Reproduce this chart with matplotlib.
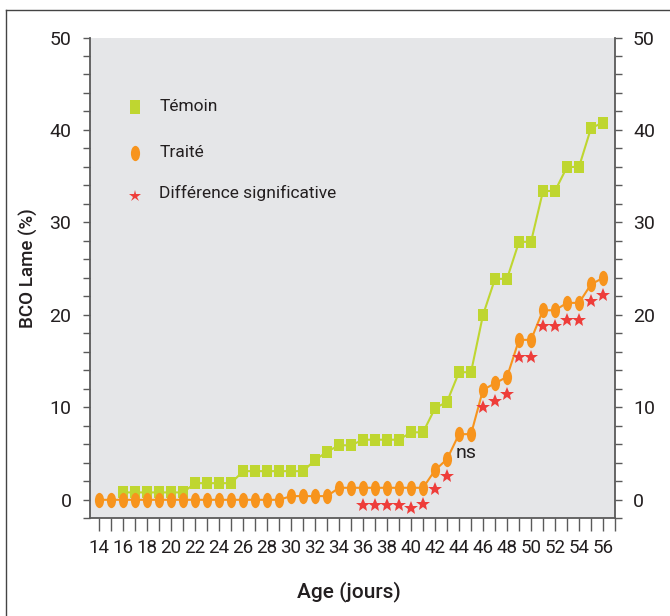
import numpy as np
import matplotlib
matplotlib.use("Agg")
from matplotlib import pyplot as plt
from matplotlib.path import Path
from matplotlib.lines import Line2D

# data
temoin_days = list(range(16, 57))
temoin = [0.8] * 6 + [1.8] * 4 + [3.1] * 6 + [4.3, 5.2, 5.9, 5.9] + [6.5] * 4 + \
         [7.3, 7.3, 9.9, 10.6, 13.8, 13.8, 20.0, 23.9, 23.9, 27.9, 27.9,
          33.4, 33.4, 36.0, 36.0, 40.2, 40.8]

traite_days = list(range(14, 57))
traite = [0.0] * 16 + [0.4] * 4 + [1.3] * 8 + \
         [3.2, 4.4, 7.1, 7.1, 11.9, 12.6, 13.3, 17.3, 17.3, 20.5, 20.5,
          21.3, 21.3, 23.3, 24.0]

star_days = [36, 37, 38, 39, 40, 41, 42, 43, 46, 47, 48, 49, 50, 51, 52, 53, 54, 55, 56]
star_vals = [-0.6, -0.6, -0.6, -0.6, -0.9, -0.5, 1.2, 2.6, 10.0, 10.7, 11.4,
             15.4, 15.4, 18.8, 18.8, 19.5, 19.5, 21.5, 22.2]

x_labels = list(range(14, 57, 2))
y_labels = [0, 10, 20, 30, 40, 50]

GREEN = "#bfd630"
ORANGE = "#f7941d"
RED = "#ee3d3a"
BG = "#e5e6e8"
DARK = "#231f20"
AXC = "#5a5a5a"

plt.rcParams['font.family'] = ['Roboto', 'DejaVu Sans']

# marker shapes: tall rectangle and tall ellipse
rect = Path([(-0.37, -0.5), (0.37, -0.5), (0.37, 0.5), (-0.37, 0.5), (-0.37, -0.5)],
            [Path.MOVETO, Path.LINETO, Path.LINETO, Path.LINETO, Path.CLOSEPOLY])
circ = Path.unit_circle()
ellipse = Path(circ.vertices * np.array([0.6, 1.0]), circ.codes)

fig = plt.figure(figsize=(6.7, 6.16), dpi=100)
ax = fig.add_axes([0.1336, 0.1586, 0.7843, 0.7805])
ax.set_facecolor(BG)

ax.plot(temoin_days, temoin, color=GREEN, lw=1.5, marker=rect, markersize=9,
        markerfacecolor=GREEN, markeredgewidth=0, zorder=3)
ax.plot(traite_days, traite, color=ORANGE, lw=1.5, marker=ellipse, markersize=11,
        markerfacecolor=ORANGE, markeredgewidth=0, zorder=4)
ax.plot(star_days, star_vals, ls="none", marker="*", markersize=10, color=RED,
        markeredgewidth=0, zorder=5)

ax.text(44.6, 5.05, "ns", fontsize=14, color=DARK, ha="center", va="center")

ax.set_xlim(13.2, 57)
ax.set_ylim(-2, 50)

ax.set_xticks(x_labels)
ax.set_xticklabels([str(v) for v in x_labels])
ax.set_xticks(range(14, 58), minor=True)
ax.set_yticks(y_labels)
ax.set_yticks(range(-2, 51, 2), minor=True)

ax.spines["top"].set_visible(False)
for s in ["left", "right", "bottom"]:
    ax.spines[s].set_color(AXC)
    ax.spines[s].set_linewidth(1.3)

ax.tick_params(axis="x", which="both", direction="out", length=9, width=1,
               color=AXC, labelsize=13.5, labelcolor=DARK, pad=6)
ax.tick_params(axis="y", which="both", direction="out", length=5, width=1,
               color=AXC, labelsize=14, labelcolor=DARK, pad=8,
               right=True, labelright=True)

# legend drawn by hand
leg_x = 17.0
ax.plot([leg_x], [(500 - 106.7) / 9.25], marker=rect, markersize=9.5, color=GREEN,
        markeredgewidth=0, ls="none")
ax.plot([leg_x], [(500 - 152.7) / 9.25], marker=ellipse, markersize=11, color=ORANGE,
        markeredgewidth=0, ls="none")
ax.plot([leg_x], [(500 - 196) / 9.25], marker="*", markersize=9, color=RED,
        markeredgewidth=0, ls="none")
for txt, yy in zip(["Témoin", "Traité", "Différence significative"],
                   [106.7, 152.7, 193]):
    ax.text(19.0, (500 - yy) / 9.25, txt, fontsize=12.5, color=DARK, va="center", ha="left")

fig.text(28 / 670, 1 - 268 / 616, "BCO Lame (%)", rotation=90, fontsize=13.5,
         fontweight="medium", color=DARK, ha="center", va="center")
fig.text(349 / 670, 1 - 592 / 616, "Age (jours)", fontsize=15,
         fontweight="medium", color=DARK, ha="center", va="center")

# outer frame (only top and left edges are inside the picture)
fig.add_artist(Line2D([6 / 670, 6 / 670], [0, 1 - 10 / 616], transform=fig.transFigure,
                      color="#444444", lw=1))
fig.add_artist(Line2D([6 / 670, 1], [1 - 10 / 616, 1 - 10 / 616], transform=fig.transFigure,
                      color="#444444", lw=1))

fig.savefig("out.png", dpi=100)
